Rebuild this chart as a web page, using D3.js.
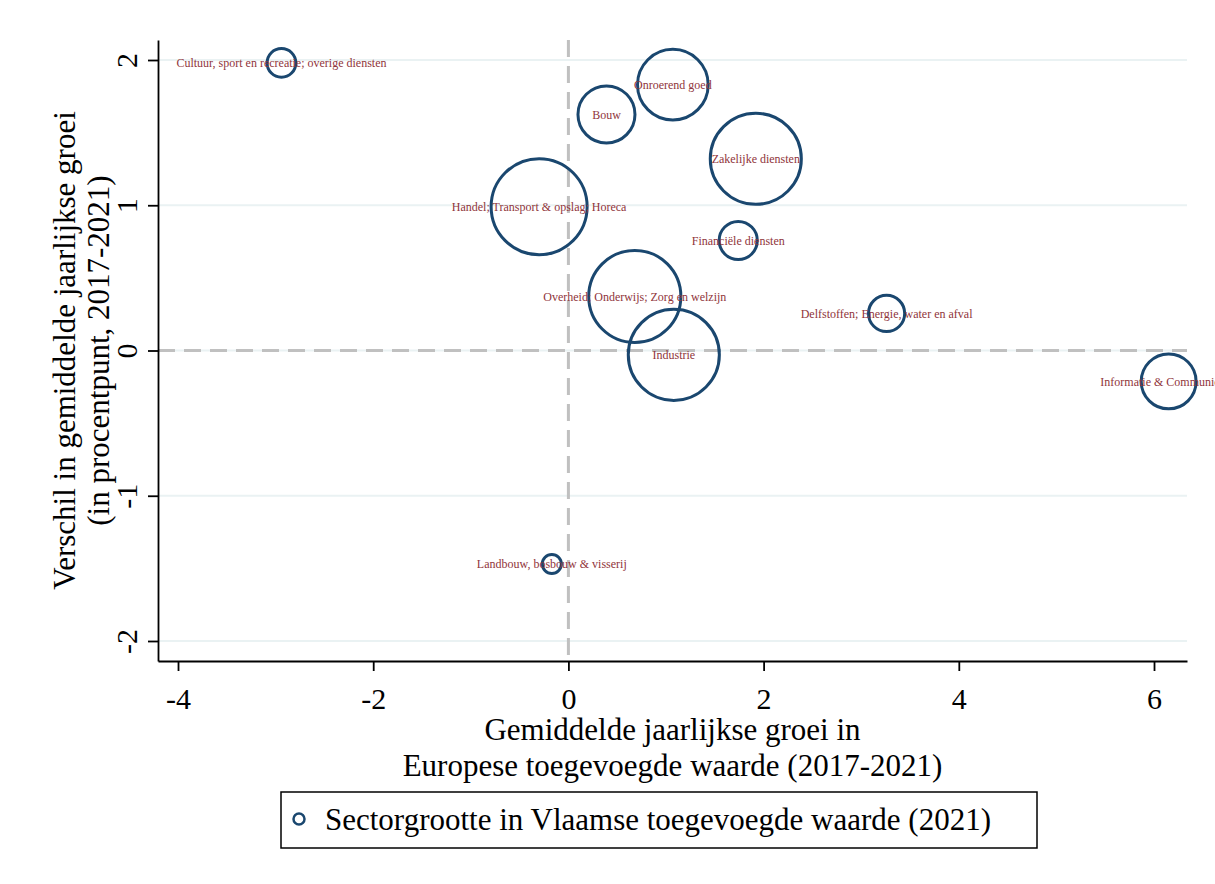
<!DOCTYPE html>
<html><head><meta charset="utf-8">
<script src="https://cdn.jsdelivr.net/npm/d3@7/dist/d3.min.js"></script>
<style>body{margin:0;background:#fff}svg{display:block}</style>
</head><body><svg id="c" width="1215" height="884"></svg>
<script>
// ---- data ----
const sectors = [
  "Cultuur, sport en recreatie; overige diensten",
  "Onroerend goed",
  "Bouw",
  "Zakelijke diensten",
  "Handel; Transport & opslag; Horeca",
  "Financiële diensten",
  "Overheid; Onderwijs; Zorg en welzijn",
  "Industrie",
  "Delfstoffen; Energie, water en afval",
  "Informatie & Communicatie",
  "Landbouw, bosbouw & visserij"
];
const euGrowth   = [-2.94, 1.07, 0.39, 1.92, -0.30, 1.74, 0.68, 1.08, 3.26, 6.15, -0.17];
const diffGrowth = [1.98, 1.83, 1.625, 1.32, 0.99, 0.757, 0.372, -0.03, 0.255, -0.213, -1.47];
const sectorSize = [1.7, 10.3, 6.7, 17.1, 19.0, 3.0, 17.5, 17.1, 2.7, 6.2, 0.75];
const xTicks = [-4, -2, 0, 2, 4, 6];
const yTicks = [-2, -1, 0, 1, 2];
const xTitle = ["Gemiddelde jaarlijkse groei in", "Europese toegevoegde waarde (2017-2021)"];
const yTitle = ["Verschil in gemiddelde jaarlijkse groei", "(in procentpunt, 2017-2021)"];
const legendLabel = "Sectorgrootte in Vlaamse toegevoegde waarde (2021)";

// ---- layout ----
const FONT = "'Liberation Serif','Times New Roman',serif";
const navy = "#1a476f", maroon = "#90353b";
const L = 158, R = 1187, T = 40, B = 661;
const svg = d3.select("#c");
svg.append("rect").attr("width", 1215).attr("height", 884).attr("fill", "#fff");

const x = d3.scaleLinear().domain([-4.205, 6.338]).range([L, R]);
const y = d3.scaleLinear().domain([-2.1377, 2.1377]).range([B, T]);
const r = d3.scaleSqrt().domain([0, d3.max(sectorSize)]).range([0, 48]);

const data = sectors.map((s, i) => ({name: s, x: euGrowth[i], y: diffGrowth[i], size: sectorSize[i]}));

// gridlines
svg.append("g").selectAll("line").data(yTicks).join("line")
  .attr("x1", L).attr("x2", R)
  .attr("y1", d => y(d)).attr("y2", d => y(d))
  .attr("stroke", "#eaf2f3").attr("stroke-width", 2);

// reference lines
svg.append("line").attr("x1", L).attr("x2", R).attr("y1", y(0)).attr("y2", y(0))
  .attr("stroke", "#c0c0c0").attr("stroke-width", 3).attr("stroke-dasharray", "17,9");
svg.append("line").attr("x1", x(0)).attr("x2", x(0)).attr("y1", T).attr("y2", B)
  .attr("stroke", "#c0c0c0").attr("stroke-width", 3).attr("stroke-dasharray", "17,9");

// axes
const fmt = d => String(d);
const xAxis = svg.append("g").attr("transform", `translate(0,${B})`)
  .call(d3.axisBottom(x).tickValues(xTicks).tickSize(10).tickSizeOuter(0).tickFormat(fmt));
const yAxis = svg.append("g").attr("transform", `translate(${L},0)`)
  .call(d3.axisLeft(y).tickValues(yTicks).tickSize(10).tickSizeOuter(0).tickFormat(fmt));
[xAxis, yAxis].forEach(a => {
  a.select(".domain").attr("stroke", "#000").attr("stroke-width", 1.8);
  a.selectAll(".tick line").attr("stroke", "#000").attr("stroke-width", 1.8);
  a.selectAll(".tick text").attr("font-family", FONT).attr("font-size", 30).attr("fill", "#000");
});
xAxis.selectAll(".tick text").attr("y", 48).attr("dy", 0);
yAxis.selectAll(".tick text").attr("x", 0).attr("dy", 0).attr("y", 0)
  .attr("text-anchor", "middle").attr("transform", "translate(-21,0) rotate(-90)");

// bubbles
svg.append("g").selectAll("circle").data(data).join("circle")
  .attr("cx", d => x(d.x)).attr("cy", d => y(d.y)).attr("r", d => r(d.size))
  .attr("fill", "none").attr("stroke", navy).attr("stroke-width", 3);
svg.append("g").selectAll("text").data(data).join("text")
  .attr("x", d => x(d.x)).attr("y", d => y(d.y)).attr("dy", "0.35em")
  .attr("text-anchor", "middle").attr("font-family", FONT).attr("font-size", 12)
  .attr("fill", maroon).text(d => d.name);

// axis titles
svg.append("g").selectAll("text").data(xTitle).join("text")
  .attr("x", (L + R) / 2).attr("y", (d, i) => 740 + i * 36)
  .attr("text-anchor", "middle").attr("font-family", FONT).attr("font-size", 31).text(d => d);
svg.append("g").selectAll("text").data(yTitle).join("text")
  .attr("transform", (d, i) => `translate(${75 + i * 34},${(T + B) / 2}) rotate(-90)`)
  .attr("text-anchor", "middle").attr("font-family", FONT).attr("font-size", 31).text(d => d);

// legend
const lg = svg.append("g");
lg.append("rect").attr("x", 281).attr("y", 792).attr("width", 756).attr("height", 56)
  .attr("fill", "none").attr("stroke", "#000").attr("stroke-width", 1.5);
lg.append("circle").attr("cx", 299).attr("cy", 819).attr("r", 5.5)
  .attr("fill", "none").attr("stroke", navy).attr("stroke-width", 2.5);
lg.append("text").attr("x", 325).attr("y", 830).attr("font-family", FONT).attr("font-size", 31).text(legendLabel);
</script>
</body></html>
